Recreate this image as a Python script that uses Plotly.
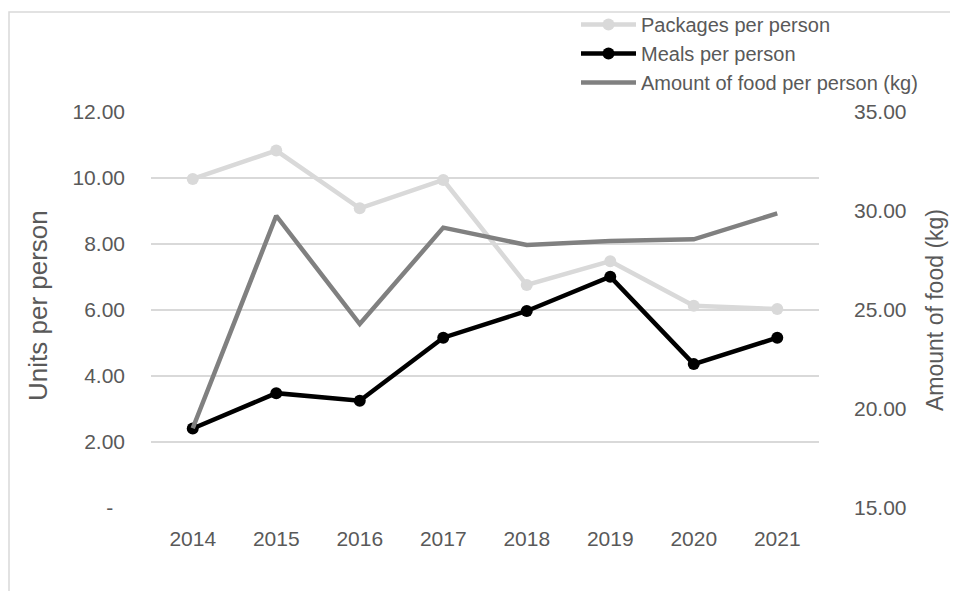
import plotly.graph_objects as go

years = ["2014", "2015", "2016", "2017", "2018", "2019", "2020", "2021"]
packages_per_person = [9.97, 10.83, 9.08, 9.94, 6.76, 7.48, 6.13, 6.03]
meals_per_person = [2.41, 3.48, 3.25, 5.16, 5.97, 7.01, 4.36, 5.16]
food_kg_per_person = [19.03, 29.76, 24.29, 29.16, 28.28, 28.48, 28.57, 29.88]

left_tickvals = [0, 2, 4, 6, 8, 10, 12]
left_ticktext = ["-\u00a0\u00a0", "2.00", "4.00", "6.00", "8.00", "10.00", "12.00"]
right_tickvals = [15, 20, 25, 30, 35]
right_ticktext = ["15.00", "20.00", "25.00", "30.00", "35.00"]

FONT = "Liberation Sans, Arial, sans-serif"
TXT = "#595959"

# figure geometry (page has an 8px body margin)
W, H = 950, 583
L, R, T, B = 143, 139, 104, 83
PW, PH = W - L - R, H - T - B


def px(x):
    return (x - L) / PW


def py(y):
    return (H - B - y) / PH


fig = go.Figure()
fig.add_trace(go.Scatter(
    x=years, y=packages_per_person, name="Packages per person",
    mode="lines+markers", line=dict(color="#d9d9d9", width=4.5),
    marker=dict(size=12, color="#d9d9d9"), yaxis="y"))
fig.add_trace(go.Scatter(
    x=years, y=meals_per_person, name="Meals per person",
    mode="lines+markers", line=dict(color="#000000", width=4.5),
    marker=dict(size=12, color="#000000"), yaxis="y"))
fig.add_trace(go.Scatter(
    x=years, y=food_kg_per_person, name="Amount of food per person (kg)",
    mode="lines", line=dict(color="#808080", width=4.5), yaxis="y2"))

fig.update_layout(
    width=W, height=H,
    margin=dict(l=L, r=R, t=T, b=B, autoexpand=False),
    paper_bgcolor="white", plot_bgcolor="white",
    font=dict(family=FONT, size=21, color=TXT),
    showlegend=True,
    legend=dict(x=px(568), y=1.27, xanchor="left", yanchor="top",
                font=dict(size=20, color=TXT), itemwidth=55,
                tracegroupgap=0, bgcolor="rgba(0,0,0,0)"),
    xaxis=dict(type="category", range=[-0.5, 7.5], showgrid=False,
               showline=False, zeroline=False, ticks="",
               ticklabelstandoff=16, tickfont=dict(size=21, color=TXT)),
    yaxis=dict(range=[0, 12], tickvals=left_tickvals, ticktext=left_ticktext,
               showgrid=True, gridcolor="#d9d9d9", gridwidth=1.5,
               zeroline=False, showline=False, ticks="",
               ticklabelstandoff=25, tickfont=dict(size=21, color=TXT)),
    yaxis2=dict(range=[15, 35], tickvals=right_tickvals, ticktext=right_ticktext,
                overlaying="y", side="right", showgrid=False, zeroline=False,
                showline=False, ticks="", ticklabelstandoff=34,
                tickfont=dict(size=21, color=TXT)),
    annotations=[
        dict(text="Units per person", x=px(30), y=py(298), xref="paper", yref="paper",
             xanchor="center", yanchor="middle",
             showarrow=False, textangle=-90, font=dict(size=26, color=TXT)),
        dict(text="Amount of food (kg)", x=px(927), y=py(302), xref="paper", yref="paper",
             xanchor="center", yanchor="middle",
             showarrow=False, textangle=-90, font=dict(size=23, color=TXT)),
    ],
    shapes=[dict(type="rect", xref="paper", yref="paper",
                 x0=px(1), x1=1.4, y0=-0.5, y1=py(4),
                 line=dict(color="#d9d9d9", width=1.5), layer="below")],
)

fig.write_html("out.html")
